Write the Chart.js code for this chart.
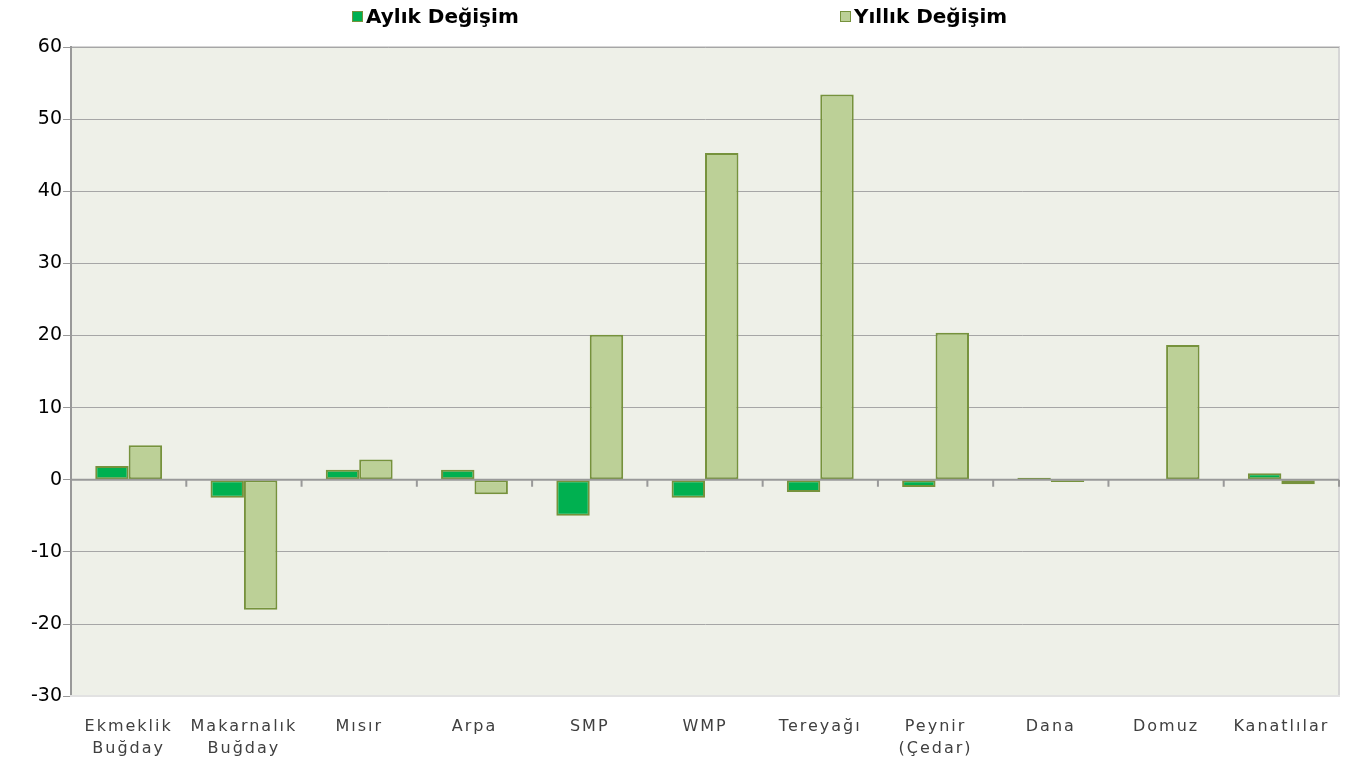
<!DOCTYPE html>
<html>
<head>
<meta charset="utf-8">
<script src="https://cdn.jsdelivr.net/npm/chart.js@4.4.1/dist/chart.umd.min.js"></script>
<style>
  html, body { margin: 0; padding: 0; background: #fff; }
  #wrap { position: relative; width: 1352px; height: 762px; }
  #legend { position: absolute; top: 4px; left: 0; width: 1352px; height: 30px; font-family: "DejaVu Sans", sans-serif; font-weight: bold; font-size: 20px; color: #000; }
  #legend .item { position: absolute; top: 0; white-space: nowrap; }
  #legend .box { display: inline-block; width: 9px; height: 9px; border: 1px solid #76923c; margin-right: 3px; vertical-align: 1px; }
</style>
</head>
<body>
<div id="wrap">
  <div id="legend"></div>
  <canvas id="chart" width="1352" height="762"></canvas>
</div>
<script>
// categories and values
const categories = [
  ['Ekmeklik', 'Buğday'], ['Makarnalık', 'Buğday'], 'Mısır', 'Arpa', 'SMP', 'WMP',
  'Tereyağı', ['Peynir', '(Çedar)'], 'Dana', 'Domuz', 'Kanatlılar'
];
const seriesNames = ['Aylık Değişim', 'Yıllık Değişim'];
const aylik = [1.9, -2.5, 1.4, 1.4, -5.0, -2.5, -1.7, -1.0, 0.3, 0, 0.9];
const yillik = [4.8, -18.0, 2.8, -2.0, 20.1, 45.3, 53.4, 20.4, -0.3, 18.7, -0.6];
const yTicks = { min: -30, max: 60, step: 10 };

const colors = ['#00b050', '#bcd097'];
const edge = '#76923c';

// legend as html text, positioned like the original
const legendLeft = [352, 840];
const legendEl = document.getElementById('legend');
seriesNames.forEach((name, i) => {
  const d = document.createElement('div');
  d.className = 'item';
  d.style.left = legendLeft[i] + 'px';
  d.innerHTML = '<span class="box" style="background:' + colors[i] + '"></span>' + name;
  legendEl.appendChild(d);
});

// plot background, light frame, zero line with its little ticks
const frame = {
  id: 'frame',
  beforeDraw(chart) {
    const { ctx, chartArea: a } = chart;
    ctx.save();
    ctx.fillStyle = '#eef0e8';
    ctx.fillRect(a.left, a.top, a.right - a.left, a.bottom - a.top);
    ctx.strokeStyle = '#d6d6d6';
    ctx.lineWidth = 2;
    ctx.beginPath();
    ctx.moveTo(a.left, a.top); ctx.lineTo(a.right, a.top); ctx.lineTo(a.right, a.bottom);
    ctx.stroke();
    ctx.restore();
  },
  afterDatasetsDraw(chart) {
    const { ctx, scales: { x, y } } = chart;
    const y0 = y.getPixelForValue(0);
    ctx.save();
    ctx.strokeStyle = '#999';
    ctx.lineWidth = 2;
    ctx.beginPath();
    ctx.moveTo(chart.chartArea.left, y0); ctx.lineTo(chart.chartArea.right, y0);
    for (let i = 0; i < categories.length; i++) {
      const xb = i < categories.length - 1
        ? (x.getPixelForValue(i) + x.getPixelForValue(i + 1)) / 2
        : chart.chartArea.right;
      ctx.moveTo(xb, y0); ctx.lineTo(xb, y0 + 7);
    }
    ctx.stroke();
    ctx.restore();
    // the category labels in the original are drawn wide
    ctx.letterSpacing = '2px';
  },
  afterDraw(chart) {
    chart.ctx.letterSpacing = '0px';
  }
};

new Chart(document.getElementById('chart'), {
  type: 'bar',
  data: {
    labels: categories,
    datasets: [
      { label: seriesNames[0], data: aylik, backgroundColor: colors[0], borderColor: edge, borderWidth: 2, borderSkipped: false },
      { label: seriesNames[1], data: yillik, backgroundColor: colors[1], borderColor: edge, borderWidth: 2, borderSkipped: false }
    ]
  },
  options: {
    responsive: false, animation: false,
    categoryPercentage: 0.58, barPercentage: 1,
    layout: { padding: { top: 47, right: 13, left: 30, bottom: -9 } },
    scales: {
      y: {
        min: yTicks.min, max: yTicks.max,
        ticks: { stepSize: yTicks.step, color: '#000', font: { family: 'DejaVu Sans', size: 19 }, padding: 1 },
        grid: { color: ctx => ctx.tick && ctx.tick.value === 0 ? 'rgba(0,0,0,0)' : '#a6a6a6', lineWidth: 1, tickLength: 8, tickColor: '#999' },
        border: { color: '#999', width: 2 }
      },
      x: {
        ticks: { z: 1, color: '#404040', font: { family: 'DejaVu Sans', size: 16, lineHeight: 1.4 }, padding: 11, maxRotation: 0, autoSkip: false },
        grid: { display: false },
        border: { color: '#e2e2e2', width: 2 }
      }
    },
    plugins: { legend: { display: false }, tooltip: { enabled: false } }
  },
  plugins: [frame]
});
</script>
</body>
</html>
